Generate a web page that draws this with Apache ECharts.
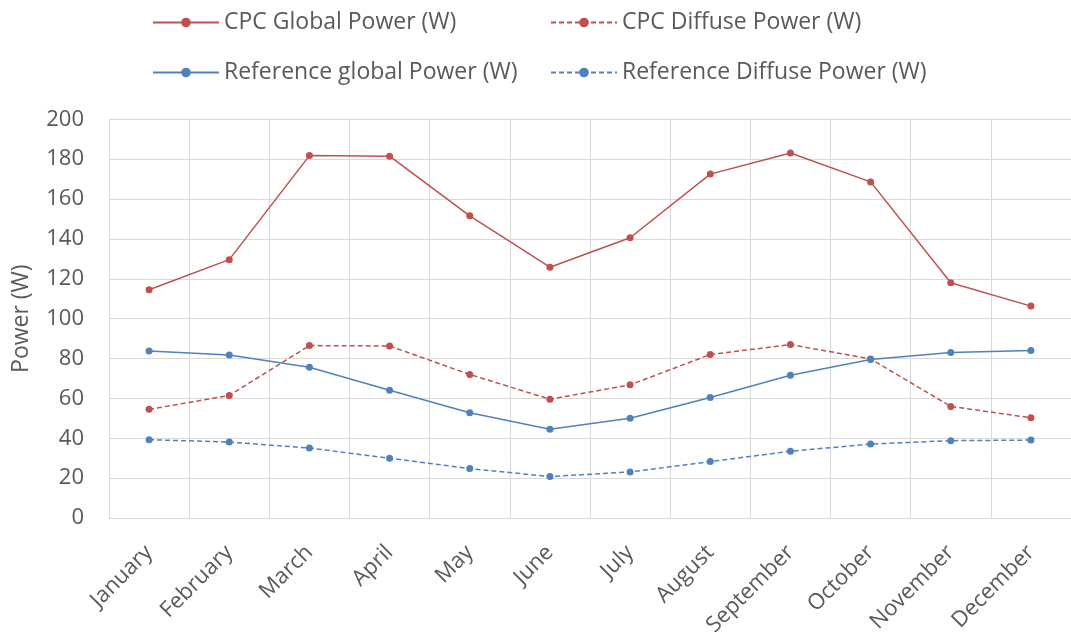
<!DOCTYPE html>
<html><head><meta charset="utf-8">
<script src="https://cdn.jsdelivr.net/npm/echarts@6/dist/echarts.min.js"></script>
<style>html,body{margin:0;padding:0;background:#fff}#c{width:1071px;height:639px}</style>
</head><body><div id="c"></div>
<script>
const months = ['January','February','March','April','May','June','July','August','September','October','November','December'];
const cpcGlobal = [114.5,129.6,181.8,181.5,151.6,125.8,140.6,172.5,183.1,168.6,118.0,106.3];
const cpcDiffuse = [54.5,61.5,86.5,86.3,72.0,59.6,66.8,82.0,87.0,79.8,56.0,50.3];
const refGlobal = [83.8,81.8,75.6,64.1,52.8,44.5,50.0,60.5,71.6,79.5,83.0,84.0];
const refDiffuse = [39.3,38.1,35.1,30.0,24.8,20.8,23.1,28.3,33.5,37.1,38.8,39.1];
const yTicks = [0,20,40,60,80,100,120,140,160,180,200];

const RED = '#C0504D', BLUE = '#4F81BD', TXT = '#595959', GRID = '#D9D9D9';
const FONT = 'Open Sans';
function mk(name, data, color, dashed) {
  return {
    name, type: 'line', data, symbol: 'circle', symbolSize: 7,
    itemStyle: { color },
    lineStyle: { color, width: 1.5, type: dashed ? [5, 3] : 'solid' },
    emphasis: { disabled: true }
  };
}
const legendCommon = {
  orient: 'vertical', itemWidth: 66, itemHeight: 12, itemGap: 27,
  textStyle: { color: TXT, fontSize: 23, fontFamily: FONT }
};
const chart = echarts.init(document.getElementById('c'));
chart.setOption({
  animation: false,
  textStyle: { fontFamily: FONT },
  legend: [
    Object.assign({}, legendCommon, { left: 147, top: 6, data: ['CPC Global Power (W)', 'Reference global Power (W)'] }),
    Object.assign({}, legendCommon, { left: 545, top: 6, data: ['CPC Diffuse Power (W)', 'Reference Diffuse Power (W)'] })
  ],
  grid: { left: 109, top: 119.3, width: 965.4, height: 400, containLabel: false },
  xAxis: {
    type: 'category', data: months, boundaryGap: true,
    axisLine: { show: true, lineStyle: { color: GRID, width: 1 } },
    axisTick: { show: false },
    splitLine: { show: true, lineStyle: { color: GRID, width: 1 } },
    axisLabel: { rotate: 45, color: TXT, fontSize: 22, fontFamily: FONT, margin: 31, interval: 0 }
  },
  yAxis: {
    type: 'value', min: yTicks[0], max: yTicks[yTicks.length-1], interval: 20,
    name: 'Power (W)', nameLocation: 'middle', nameGap: 76,
    nameTextStyle: { color: TXT, fontSize: 23, fontFamily: FONT },
    axisLine: { show: true, lineStyle: { color: GRID, width: 1 } },
    axisTick: { show: false },
    splitLine: { show: true, lineStyle: { color: GRID, width: 1 } },
    axisLabel: { color: TXT, fontSize: 22, fontFamily: FONT, margin: 25 }
  },
  series: [
    mk('CPC Global Power (W)', cpcGlobal, RED, false),
    mk('CPC Diffuse Power (W)', cpcDiffuse, RED, true),
    mk('Reference global Power (W)', refGlobal, BLUE, false),
    mk('Reference Diffuse Power (W)', refDiffuse, BLUE, true)
  ]
});
</script></body></html>
